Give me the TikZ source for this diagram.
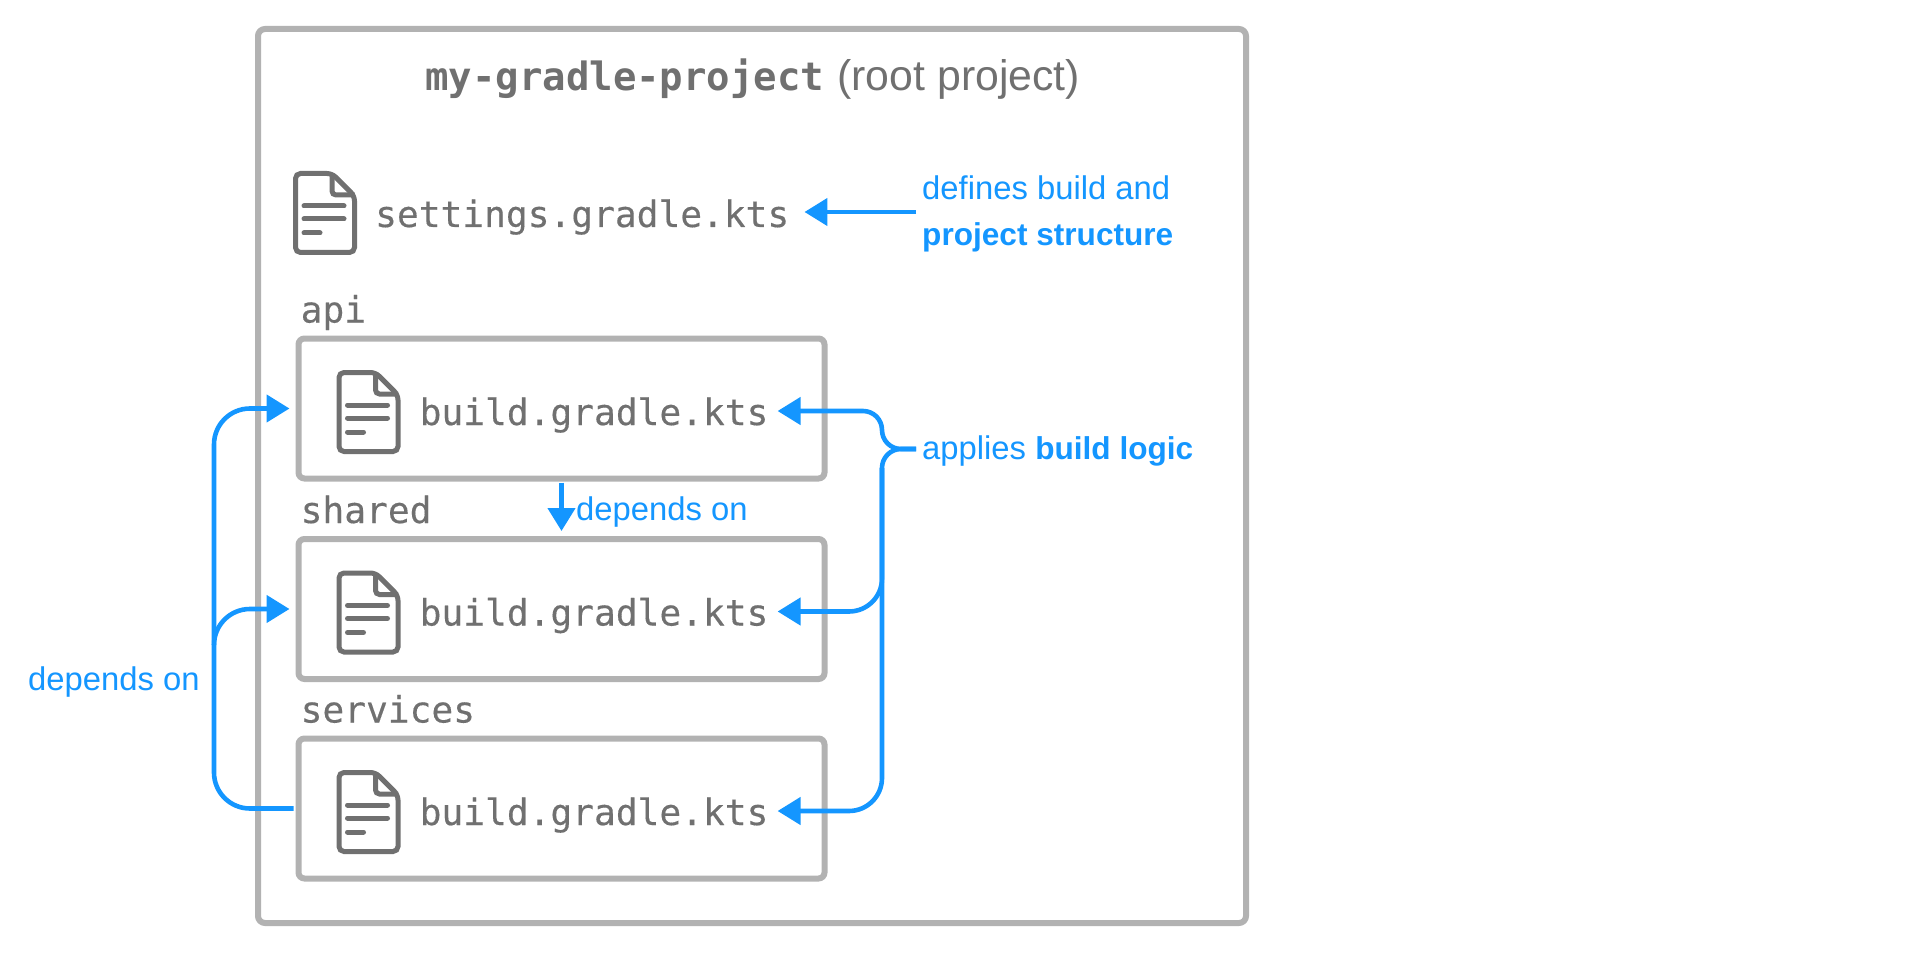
\documentclass[tikz,border=0pt]{standalone}
\usepackage{fontspec}
\setmainfont{Liberation Sans}
\setmonofont{DejaVu Sans Mono}[UprightFeatures={FakeBold=0.3}]
\usetikzlibrary{arrows.meta}
\definecolor{flowblue}{HTML}{1496FF}
\definecolor{boxgray}{HTML}{B2B2B2}
\definecolor{textgray}{HTML}{707070}
\newcommand{\strongword}[1]{{\fontsize{31.6}{46.6}\selectfont\bfseries #1}}
\tikzset{
	rootbox/.style={draw=boxgray, line width=6pt, rounded corners=7pt, outer sep=0pt, minimum width=988pt, minimum height=894pt},
	modulebox/.style={draw=boxgray, line width=6pt, rounded corners=6pt, outer sep=0pt, minimum width=526pt, minimum height=140pt},
	monotext/.style={inner sep=0pt, text=textgray, font=\fontsize{36.2}{42}\selectfont\ttfamily},
	filename/.style={monotext, anchor=west, text height=28pt, text depth=0pt},
	bluelabel/.style={inner sep=0pt, text=flowblue, font=\fontsize{32.8}{46.6}\selectfont},
	flowline/.style={draw=flowblue, line width=4.6pt}
}
\begin{document}
\begin{tikzpicture}[>={Triangle[length=23pt,width=27pt]}, x=1pt, y=-1pt]
	\tikzset{
		kotsfile/.pic={
				\draw[textgray, line width=5pt, rounded corners=5pt] (39,2.5) -- (2.5,2.5) -- (2.5,81.5) -- (61.5,81.5) -- (61.5,25) -- cycle;
				\draw[textgray, line width=5pt, rounded corners=4pt] (39,2.5) -- (39,24) -- (61.5,24);
				\draw[textgray, line width=5pt, line cap=round] (11,35) -- (51,35);
				\draw[textgray, line width=5pt, line cap=round] (11,48) -- (51,48);
				\draw[textgray, line width=5pt, line cap=round] (11,62) -- (27,62);
			}
	}
	\useasboundingbox (0,0) rectangle (1920,960);
	\node[rootbox] (root) at (752,476) {};
	\node[inner sep=0pt, anchor=base west, text=textgray] (title) at (425,91)
	{\fontsize{39}{45}\selectfont\ttfamily\bfseries my-gradle-project\hspace{13pt}\fontsize{42.8}{45}\selectfont\rmfamily\mdseries(root project)};
	\pic at (293,171) {kotsfile};
	\node[filename] (settings) at (375,213) {settings.gradle.kts};
	\node[bluelabel, align=left, anchor=base west] (defines) at (922,245.6) {defines build and\\\strongword{project structure}};
	\coordinate (definesin) at (916,212);
	\foreach \nm/\cy in {api/408.5, shared/609, services/808.5} {
			\node[modulebox] (\nm) at (561.5,\cy) {};
			\node[monotext, anchor=base west] (label\nm) at ([xshift=2pt,yshift=16pt]\nm.north west) {\nm};
			\pic at ([xshift=38pt,yshift=38.5pt]\nm.west) {kotsfile};
			\node[filename] (build\nm) at ([xshift=121pt,yshift=-2.5pt]\nm.west) {build.gradle.kts};
		}
	\node[bluelabel, anchor=west, text height=20pt, text depth=0pt] (applies) at (922,449) {applies \strongword{build logic}};
	\node[bluelabel, anchor=base west] (apidep) at (576,520) {depends on};
	\node[bluelabel, anchor=base west] (leftdep) at (28,690) {depends on};
	\coordinate (logicbus) at (882,449);
	\coordinate (logicjoin) at (882,468);
	\coordinate (depbus) at (214,645);
	% settings and the logic that the build files get
	\draw[flowline, ->, shorten >=15pt] (definesin) -- (settings.east |- definesin);
	\draw[flowline, ->, shorten <=6pt, shorten >=9pt, rounded corners=19pt] (applies.west) -- (logicbus) |- (buildapi.east);
	\draw[flowline, ->, shorten <=6pt, shorten >=9pt, rounded corners=19pt] (applies.west) -- (logicbus) [rounded corners=33pt] |- (buildservices.east);
	\draw[flowline, ->, shorten >=9pt, rounded corners=33pt] (logicjoin) |- (buildshared.east);
	% dependencies between the subprojects
	\draw[flowline, ->, shorten <=4pt, shorten >=8pt] (api.south) -- (shared.north);
	\draw[flowline, ->, shorten <=5pt, shorten >=9pt, rounded corners=36pt] (services.west) -| (depbus) |- (api.west);
	\draw[flowline, ->, shorten >=9pt, rounded corners=36pt] (depbus) |- (shared.west);
\end{tikzpicture}
\end{document}
